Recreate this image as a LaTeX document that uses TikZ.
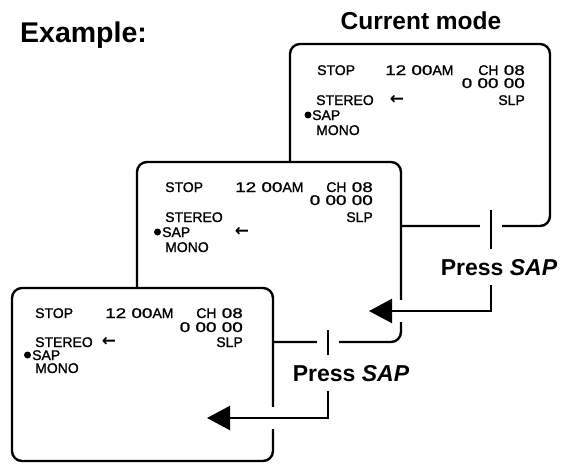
\documentclass[tikz,border=0pt]{standalone}
\usepackage{fontspec}
\setmainfont{Liberation Sans}
\newfontfamily\osdfont[FakeBold=1.3]{Liberation Sans}
\newfontfamily\osd[FakeStretch=1.35, FakeBold=1.3]{Liberation Sans}
\newfontfamily\arrowfont{DejaVu Sans}
\usetikzlibrary{arrows.meta, positioning}

\begin{document}
\begin{tikzpicture}[
    x=1pt, y=-1pt, >={Triangle[length=23pt, width=24pt]},
    screen/.style={rectangle, draw, fill=white, rounded corners=10pt, line width=2.4pt, inner sep=0pt},
    osdtext/.style={anchor=base west, inner sep=0pt, font=\fontsize{14}{15}\osdfont},
    osdright/.style={osdtext, anchor=base east},
    selarrow/.style={inner sep=0pt, font=\fontsize{17}{17}\arrowfont\bfseries},
    cursor/.style={circle, fill, inner sep=0pt, minimum size=7pt},
    press/.style={->, line width=2.2pt, preaction={draw=white, line width=22pt, -}},
    presslabel/.style={anchor=base, fill=white, inner xsep=2pt, inner ysep=10pt, font=\fontsize{23}{24}\selectfont\bfseries}
]
\useasboundingbox (0,0) rectangle (562,463);

% Titles
\node[anchor=base west, inner sep=0pt, font=\fontsize{28.5}{30}\selectfont\bfseries] (example) at (20,42) {Example:};
\node[anchor=base, inner sep=0pt, font=\fontsize{24.5}{26}\selectfont\bfseries] (current) at (421,29) {Current mode};

% Screens (back to front)
\node[screen, minimum width=260pt, minimum height=182pt] (scr1) at (420,135) {};
\node[screen, minimum width=264pt, minimum height=180pt] (scr2) at (269,252) {};
\node[screen, minimum width=261pt, minimum height=173pt] (scr3) at (142.5,374.5) {};

% Screen 1 (current mode)
\node[osdtext] (stop1) at (317,75) {STOP};
\node[osdtext] (time1) at (385,75) {{\osd 12 00}AM};
\node[osdright] (ch1) at (525,75) {CH{\osd\ 08}};
\node[osdright] (count1) at (525,88) {\osd 0 00 00};
\node[osdtext] (stereo1) at (316,105) {STEREO};
\node[selarrow] (sel1) at (397,100) {←};
\node[osdright] (slp1) at (525,105) {SLP};
\node[osdtext] (sap1) at (312,120) {SAP};
\node[cursor] (cur1) at (308,115) {};
\node[osdtext] (mono1) at (316,135) {MONO};

% Screen 2
\node[osdtext] (stop2) at (165,192) {STOP};
\node[osdtext] (time2) at (235,192) {{\osd 12 00}AM};
\node[osdright] (ch2) at (373,192) {CH{\osd\ 08}};
\node[osdright] (count2) at (373,205) {\osd 0 00 00};
\node[osdtext] (stereo2) at (165,222) {STEREO};
\node[osdright] (slp2) at (373,222) {SLP};
\node[osdtext] (sap2) at (162,237) {SAP};
\node[cursor] (cur2) at (157.5,232) {};
\node[selarrow] (sel2) at (242,232) {←};
\node[osdtext] (mono2) at (165,252) {MONO};

% Screen 3
\node[osdtext] (stop3) at (35,318) {STOP};
\node[osdtext] (time3) at (105,318) {{\osd 12 00}AM};
\node[osdright] (ch3) at (243,318) {CH{\osd\ 08}};
\node[osdright] (count3) at (243,332) {\osd 0 00 00};
\node[osdtext] (stereo3) at (35,347) {STEREO};
\node[selarrow] (sel3) at (109,342) {←};
\node[osdright] (slp3) at (243,347) {SLP};
\node[osdtext] (sap3) at (32,360) {SAP};
\node[cursor] (cur3) at (27.5,355) {};
\node[osdtext] (mono3) at (35,373) {MONO};

% Press SAP connectors
\coordinate (p1) at (491,210);
\coordinate (t1) at (369,311);
\coordinate (p2) at (328,330);
\coordinate (t2) at (207,418);
\draw[press] (p1) |- (t1);
\draw[press] (p2) |- (t2);
\node[presslabel] (lab1) at (499,275) {Press \textit{SAP}};
\node[presslabel] (lab2) at (351,381) {Press \textit{SAP}};

\end{tikzpicture}
\end{document}
